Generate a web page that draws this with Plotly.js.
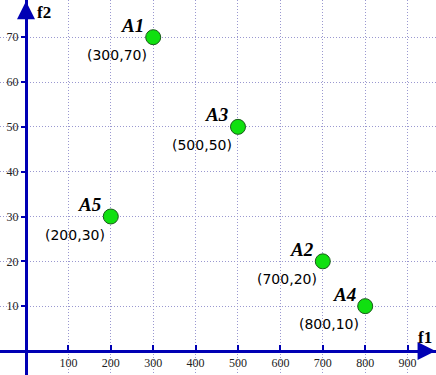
<!DOCTYPE html>
<html><head><meta charset="utf-8">
<script src="https://cdn.plot.ly/plotly-3.0.1.min.js"></script>
<style>html,body{margin:0;padding:0;background:#fff}</style>
</head><body><div id="chart" style="width:436px;height:375px"></div>
<script>
const names = ["A1", "A3", "A5", "A2", "A4"];
const f1 = [300, 500, 200, 700, 800];
const f2 = [70, 50, 30, 20, 10];
const xTicks = [100, 200, 300, 400, 500, 600, 700, 800, 900];
const yTicks = [10, 20, 30, 40, 50, 60, 70];

const xr = [-61.3, 967];
const yr = [-5.36, 78.3];
const axisBlue = '#0000b4';
const gridCol = '#9a98d0';

const annotations = [];
for (let i = 0; i < names.length; i++) {
  annotations.push({x: f1[i], y: f2[i], xref: 'x', yref: 'y', text: '<b><i>' + names[i] + '</i></b>',
    showarrow: false, xshift: -21, yshift: 12,
    font: {family: 'Liberation Serif', size: 19, color: '#000'}});
  annotations.push({x: f1[i], y: f2[i], xref: 'x', yref: 'y', text: '(' + f1[i] + ',' + f2[i] + ')',
    showarrow: false, xshift: -36, yshift: -18,
    font: {family: 'DejaVu Sans', size: 14, color: '#000'}});
}
// axis arrows
annotations.push({x: xr[1] - 1, y: 0, xref: 'x', yref: 'y', ax: -14, ay: 0, text: '', showarrow: true,
  arrowhead: 2, arrowsize: 1.2, arrowwidth: 3, arrowcolor: axisBlue});
annotations.push({x: 0, y: yr[1] - 0.3, xref: 'x', yref: 'y', ax: 0, ay: 14, text: '', showarrow: true,
  arrowhead: 2, arrowsize: 1.2, arrowwidth: 3, arrowcolor: axisBlue});
// axis names
annotations.push({xref: 'paper', yref: 'paper', x: 44 / 436, y: 1 - 12 / 375, xanchor: 'center', yanchor: 'middle',
  text: '<b>f2</b>', showarrow: false, font: {family: 'Liberation Serif', size: 17, color: '#000'}});
annotations.push({xref: 'paper', yref: 'paper', x: 425 / 436, y: 1 - 337 / 375, xanchor: 'center', yanchor: 'middle',
  text: '<b>f1</b>', showarrow: false, font: {family: 'Liberation Serif', size: 17, color: '#000'}});

const trace = {
  x: f1, y: f2, mode: 'markers', type: 'scatter',
  marker: {size: 15, color: '#10e010', line: {color: '#1a5a1a', width: 1}},
  hoverinfo: 'skip'
};

const layout = {
  width: 436, height: 375,
  margin: {l: 0, r: 0, t: 0, b: 0},
  paper_bgcolor: '#fff', plot_bgcolor: '#fff',
  showlegend: false,
  xaxis: {
    range: xr, anchor: 'free', position: (0 - yr[0]) / (yr[1] - yr[0]),
    tickvals: xTicks, ticktext: xTicks.map(String),
    showline: true, linecolor: axisBlue, linewidth: 3,
    ticks: 'inside', ticklen: 5, tickwidth: 2, tickcolor: axisBlue,
    showgrid: true, gridcolor: gridCol, griddash: '1px,2px', gridwidth: 1,
    zeroline: false,
    tickfont: {family: 'Liberation Serif', size: 12, color: '#222'}
  },
  yaxis: {
    range: yr, anchor: 'free', position: (0 - xr[0]) / (xr[1] - xr[0]),
    tickvals: yTicks, ticktext: yTicks.map(String),
    showline: true, linecolor: axisBlue, linewidth: 3,
    ticks: 'outside', ticklen: 4, tickwidth: 2, tickcolor: axisBlue,
    showgrid: true, gridcolor: gridCol, griddash: '1px,2px', gridwidth: 1,
    zeroline: false,
    tickfont: {family: 'Liberation Serif', size: 12, color: '#222'}
  },
  annotations: annotations
};

Plotly.newPlot('chart', [trace], layout, {staticPlot: true, displayModeBar: false});
</script>
</body></html>
